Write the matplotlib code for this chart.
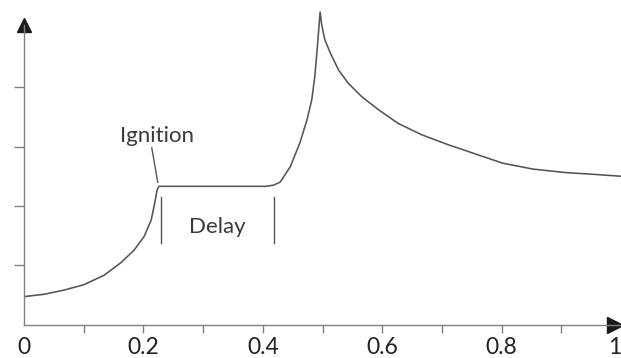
# Combustion pressure trace with ignition delay (schematic)

import matplotlib.pyplot as plt

plt.rcParams['font.family'] = ['Lato', 'DejaVu Sans']

# values
t = [0.0, 0.034, 0.067, 0.10, 0.134, 0.162, 0.184, 0.201, 0.213, 0.219, 0.223, 0.226,
     0.30, 0.36, 0.405, 0.418, 0.429, 0.446, 0.462, 0.474, 0.482, 0.487, 0.491, 0.496,
     0.4987, 0.504, 0.513, 0.527, 0.543, 0.566, 0.594, 0.627, 0.666, 0.711, 0.755,
     0.802, 0.853, 0.909, 0.943, 1.0]
p = [0.47, 0.51, 0.58, 0.67, 0.83, 1.04, 1.25, 1.48, 1.76, 2.05, 2.27, 2.33,
     2.33, 2.33, 2.33, 2.35, 2.40, 2.66, 3.06, 3.45, 3.79, 4.17, 4.63, 5.27,
     5.05, 4.80, 4.58, 4.29, 4.07, 3.84, 3.62, 3.39, 3.20, 3.03, 2.88,
     2.72, 2.62, 2.56, 2.54, 2.50]

delay_start = 0.229
delay_end = 0.419
xticks = [0, 0.2, 0.4, 0.6, 0.8, 1]
xtick_labels = ['0', '0.2', '0.4', '0.6', '0.8', '1']
xminor = [0.1, 0.3, 0.5, 0.7, 0.9]
yticks = [1, 2, 3, 4]

fig = plt.figure(figsize=(6.21, 3.58), dpi=100)
ax = fig.add_axes([24 / 621, 33.5 / 358, 597 / 621, 324.5 / 358])
ax.set_xlim(0, 1)
ax.set_ylim(0, 324.5 / 59.3)

line_c = '#555555'
axis_c = '#808080'
text_c = '#3a3a3a'

ax.plot(t, p, color=line_c, lw=1.15, solid_joinstyle='round')

# delay markers
for xd in (delay_start, delay_end):
    ax.plot([xd, xd], [1.37, 2.15], color=line_c, lw=1.0)
ax.text(0.324, 1.54, 'Delay', ha='center', va='baseline',
        fontsize=16, color=text_c)

# ignition label and leader
ax.plot([0.214, 0.224], [2.98, 2.40], color=line_c, lw=1.0)
ax.text(0.222, 3.08, 'Ignition', ha='center', va='baseline', fontsize=16, color=text_c)

# axes styling
for s in ('top', 'right'):
    ax.spines[s].set_visible(False)
for s in ('left', 'bottom'):
    ax.spines[s].set_color(axis_c)
    ax.spines[s].set_linewidth(1.0)
ax.spines['left'].set_bounds(0, 5.05)

ax.set_xticks(xticks)
ax.set_xticklabels(xtick_labels)
ax.set_xticks(xminor, minor=True)
ax.set_yticks(yticks)
ax.set_yticklabels([])
ax.tick_params(axis='x', which='both', direction='out', length=6, width=1.0,
               color=axis_c, labelsize=16.5, labelcolor='#222222', pad=3)
ax.tick_params(axis='y', direction='out', length=7, width=1.0, color=axis_c)
ax.xaxis.get_major_ticks()[0].tick1line.set_visible(False)
ax.xaxis.get_major_ticks()[-1].tick1line.set_visible(False)
ax.get_xticklabels()[-1].set_ha('right')

# arrow heads
ax.plot([0], [5.05], marker='^', ms=10, color='#1a1a1a', clip_on=False)
ax.plot([0.99], [0], marker='>', ms=12, color='#1a1a1a', clip_on=False)

fig.savefig('out.png', dpi=100)
